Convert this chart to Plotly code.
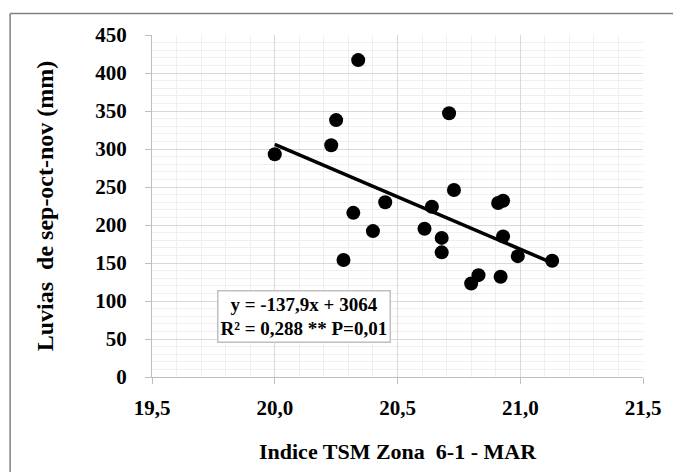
import plotly.graph_objects as go

# Data
tsm_index = [20.0, 20.23, 20.25, 20.34, 20.28, 20.32, 20.40, 20.45, 20.61, 20.64, 20.68,
             20.68, 20.71, 20.73, 20.80, 20.83, 20.91, 20.93, 20.93, 20.92, 20.99, 21.13]
rain_son = [293, 305, 338, 417, 154, 216, 192, 230, 195, 224, 183,
            164, 347, 246, 123, 134, 229, 232, 185, 132, 159, 153]

# Regression coefficients as stated on the chart
slope = -137.9
intercept = 3064
eq_text = "y = -137,9x + 3064<br>R² = 0,288 ** P=0,01"

x_title = "Indice TSM Zona  6-1 - MAR"
y_title = "Luvias  de sep-oct-nov (mm)"

x_line = [min(tsm_index), max(tsm_index)]
y_line = [slope * v + intercept for v in x_line]

serif = "Liberation Serif, Times New Roman, serif"

fig = go.Figure()
fig.add_trace(go.Scatter(x=x_line, y=y_line, mode="lines",
                         line=dict(color="black", width=3.5), hoverinfo="skip",
                         showlegend=False))
fig.add_trace(go.Scatter(x=tsm_index, y=rain_son, mode="markers",
                         marker=dict(color="black", size=14), showlegend=False))

border = dict(color="#808080", width=1.5)

fig.update_layout(
    width=673, height=472,
    margin=dict(l=152, r=26, t=35, b=87),
    paper_bgcolor="white", plot_bgcolor="white",
    separators=",.",
    font=dict(family=serif, color="black"),
    xaxis=dict(
        range=[19.5, 21.5], dtick=0.5, tick0=19.5, tickformat=".1f",
        showgrid=True, gridcolor="#d9d9d9", gridwidth=1,
        minor=dict(dtick=0.1, showgrid=True, gridcolor="#efefef", gridwidth=1),
        showline=True, linecolor="#bfbfbf", linewidth=1,
        ticks="outside", ticklen=6, tickcolor="#bfbfbf",
        zeroline=False,
        tickfont=dict(family=serif, size=21, color="black", weight="bold"),
        ticklabelstandoff=6,
        title=dict(text=x_title, standoff=24,
                   font=dict(family=serif, size=22, color="black", weight="bold")),
    ),
    yaxis=dict(
        range=[0, 450], dtick=50, tick0=0,
        showgrid=True, gridcolor="#d9d9d9", gridwidth=1,
        minor=dict(dtick=10, showgrid=True, gridcolor="#efefef", gridwidth=1),
        showline=True, linecolor="#bfbfbf", linewidth=1,
        ticks="outside", ticklen=6, tickcolor="#bfbfbf",
        zeroline=False,
        tickfont=dict(family=serif, size=21, color="black", weight="bold"),
        ticklabelstandoff=14,
        title=dict(text=y_title, standoff=34,
                   font=dict(family=serif, size=24, color="black", weight="bold")),
    ),
    annotations=[dict(
        text=eq_text, xref="paper", yref="paper", x=0.310, y=0.177,
        xanchor="center", yanchor="middle", showarrow=False, align="center",
        font=dict(family=serif, size=19, color="black", weight="bold"),
        bgcolor="white", bordercolor="#bfbfbf", borderwidth=1.5, borderpad=2,
    )],
    shapes=[
        dict(type="line", xref="paper", yref="paper",
             x0=-0.289, x1=-0.289, y0=-0.3, y1=1.063, line=border, layer="below"),
        dict(type="line", xref="paper", yref="paper",
             x0=-0.289, x1=1.3, y0=1.063, y1=1.063, line=border, layer="below"),
    ],
)

fig.write_html(
    "out.html",
    config={"displayModeBar": False},
    post_script="document.body.style.margin='0px';document.body.style.overflow='hidden';",
)
